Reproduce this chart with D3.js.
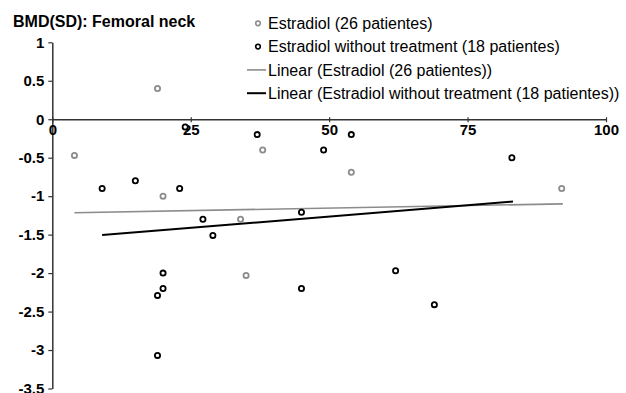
<!DOCTYPE html>
<html>
<head>
<meta charset="utf-8">
<script src="https://cdn.jsdelivr.net/npm/d3@7"></script>
<style>
  body { margin: 0; background: #fff; }
  svg { display: block; font-family: Arial, "Liberation Sans", sans-serif; }
</style>
</head>
<body>
<div id="chart"></div>
<script>
/* Series: Estradiol (26 patientes) - grey points */
const estradiolX = [4, 19, 20, 34, 35, 38, 54, 92];
const estradiolY = [-0.47, 0.40, -1.0, -1.30, -2.03, -0.40, -0.69, -0.90];

/* Series: Estradiol without treatment (18 patientes) - black points */
const noTreatX = [9, 15, 23, 24, 27.2, 29, 37, 45, 49, 54, 83, 20, 20, 19, 19, 45, 62, 69];
const noTreatY = [-0.90, -0.80, -0.90, -0.10, -1.30, -1.51, -0.20, -1.21, -0.40, -0.20, -0.50,
                  -2.0, -2.2, -2.29, -3.07, -2.2, -1.97, -2.41];

/* Linear trend lines (start / end points) */
const estradiolTrend = [[4, -1.215], [92.2, -1.10]];
const noTreatTrend = [[9, -1.505], [83.2, -1.07]];

/* Axis ticks */
const xTicks = [0, 25, 50, 75, 100];
const yTicks = [1, 0.5, 0, -0.5, -1, -1.5, -2, -2.5, -3, -3.5];

const legendLabels = [
  "Estradiol (26 patientes)",
  "Estradiol without treatment (18 patientes)",
  "Linear (Estradiol (26 patientes))",
  "Linear (Estradiol without treatment (18 patientes))"
];

const width = 626, height = 393;
const grey = "#8c8c8c";

const svg = d3.select("#chart")
  .append("svg")
  .attr("width", width)
  .attr("height", height);

/* Scales */
const x = d3.scaleLinear().domain([0, 100]).range([52.3, 606]);
const y = d3.scaleLinear().domain([-3.5, 1]).range([388.5, 42.3]);

/* Title */
svg.append("text")
  .attr("x", 13)
  .attr("y", 26.5)
  .attr("font-size", "16px")
  .attr("font-weight", "bold")
  .text("BMD(SD): Femoral neck");

/* Y axis */
const yAxis = svg.append("g")
  .attr("transform", `translate(${x(0)},0)`)
  .call(d3.axisLeft(y).tickValues(yTicks).tickSize(4).tickSizeOuter(0)
    .tickFormat(d => d3.format("")(d)));
yAxis.select(".domain").attr("stroke", "#333").attr("stroke-width", 1.5);
yAxis.selectAll(".tick line").attr("stroke", "#333").attr("stroke-width", 1.2);
yAxis.selectAll(".tick text")
  .attr("x", -8)
  .attr("font-size", "15px")
  .attr("font-weight", "bold")
  .attr("font-family", "Arial, 'Liberation Sans', sans-serif")
  .attr("fill", "#000")
  .text(d => d === 0 ? "0" : String(d).replace("-0.", "-0."));

/* X axis at y = 0 */
const xAxis = svg.append("g")
  .attr("transform", `translate(0,${y(0)})`)
  .call(d3.axisBottom(x).tickValues(xTicks).tickSize(3).tickSizeOuter(0));
xAxis.select(".domain").attr("stroke", "#333").attr("stroke-width", 1.5);
xAxis.selectAll(".tick line").attr("stroke", "#333").attr("stroke-width", 1.2)
  .attr("y1", -2);
xAxis.selectAll(".tick text")
  .attr("y", 5)
  .attr("font-size", "15px")
  .attr("font-weight", "bold")
  .attr("font-family", "Arial, 'Liberation Sans', sans-serif")
  .attr("fill", "#000");

/* Trend lines */
const line = d3.line().x(d => x(d[0])).y(d => y(d[1]));

svg.append("path")
  .datum(estradiolTrend)
  .attr("d", line)
  .attr("fill", "none")
  .attr("stroke", grey)
  .attr("stroke-width", 1.6);

svg.append("path")
  .datum(noTreatTrend)
  .attr("d", line)
  .attr("fill", "none")
  .attr("stroke", "#000")
  .attr("stroke-width", 2);

/* Points */
svg.append("g")
  .selectAll("circle")
  .data(d3.zip(estradiolX, estradiolY))
  .join("circle")
    .attr("cx", d => x(d[0]))
    .attr("cy", d => y(d[1]))
    .attr("r", 2.6)
    .attr("fill", "#fff")
    .attr("stroke", grey)
    .attr("stroke-width", 1.8);

svg.append("g")
  .selectAll("circle")
  .data(d3.zip(noTreatX, noTreatY))
  .join("circle")
    .attr("cx", d => x(d[0]))
    .attr("cy", d => y(d[1]))
    .attr("r", 2.6)
    .attr("fill", "#fff")
    .attr("stroke", "#000")
    .attr("stroke-width", 1.8);

/* Legend */
const legend = svg.append("g");
const rowY = i => 23.3 + i * 23.3;

legendLabels.forEach((label, i) => {
  const g = legend.append("g").attr("transform", `translate(0,${rowY(i)})`);
  if (i < 2) {
    g.append("circle")
      .attr("cx", 258)
      .attr("cy", 0)
      .attr("r", 2.3)
      .attr("fill", "#fff")
      .attr("stroke", i === 0 ? grey : "#000")
      .attr("stroke-width", 1.6);
  } else {
    g.append("line")
      .attr("x1", 247)
      .attr("x2", 266)
      .attr("stroke", i === 2 ? grey : "#000")
      .attr("stroke-width", i === 2 ? 1.6 : 2);
  }
  g.append("text")
    .attr("x", 268)
    .attr("y", 5.6)
    .attr("font-size", "16px")
    .attr("fill", "#000")
    .text(label);
});
</script>
</body>
</html>
